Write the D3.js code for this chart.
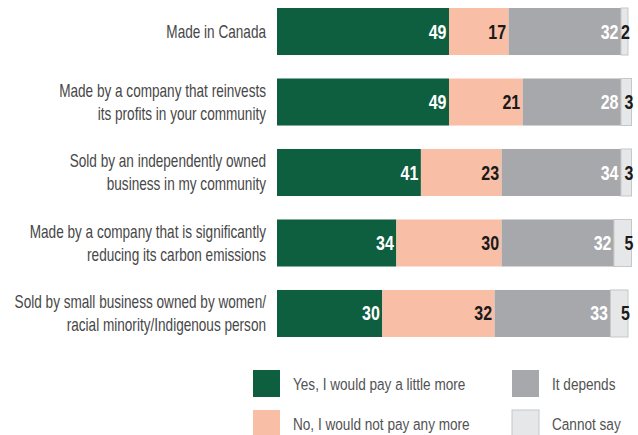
<!DOCTYPE html>
<html>
<head>
<meta charset="utf-8">
<script src="https://cdn.jsdelivr.net/npm/d3@7"></script>
<style>
  body { margin: 0; background: #fff; }
  svg text { font-family: "Liberation Sans", Arial, sans-serif; }
  .cat { fill: #474747; font-size: 18px; }
  .val { font-size: 20px; font-weight: bold; }
  .leg { fill: #525252; font-size: 17px; }
</style>
</head>
<body>
<div id="chart"></div>
<script>
var categories = [
  ["Made in Canada"],
  ["Made by a company that reinvests", "its profits in your community"],
  ["Sold by an independently owned", "business in my community"],
  ["Made by a company that is significantly", "reducing its carbon emissions"],
  ["Sold by small business owned by women/", "racial minority/Indigenous person"]
];
var seriesNames = ["Yes, I would pay a little more", "No, I would not pay any more", "It depends", "Cannot say"];
var yesVals = [49, 49, 41, 34, 30];
var noVals = [17, 21, 23, 30, 32];
var dependsVals = [32, 28, 34, 32, 33];
var cannotVals = [2, 3, 3, 5, 5];

var colors = ["#0e5e40", "#f9bea6", "#a7a8ab", "#e6e7e8"];
var textColors = ["#fff", "#1a1a1a", "#fff", "#1a1a1a"];

var width = 638, height = 435;
var svg = d3.select("#chart").append("svg")
  .attr("width", width).attr("height", height);

var x = d3.scaleLinear().domain([0, 100]).range([277, 628]);
var y = d3.scaleBand().domain(d3.range(categories.length)).range([8, 337]).paddingInner(0.333).paddingOuter(0);
var bh = y.bandwidth();

var rows = categories.map(function (c, i) {
  var vals = [yesVals[i], noVals[i], dependsVals[i], cannotVals[i]];
  var acc = 0;
  var segs = vals.map(function (v, k) {
    var s = { k: k, v: v, x0: acc, x1: acc + v };
    acc += v;
    return s;
  });
  return { i: i, lines: c, segs: segs };
});

var g = svg.selectAll(".row").data(rows).enter().append("g")
  .attr("class", "row")
  .attr("transform", function (d) { return "translate(0," + y(d.i) + ")"; });

g.selectAll("rect").data(function (d) { return d.segs; }).enter().append("rect")
  .attr("x", function (s) { return x(s.x0); })
  .attr("width", function (s) { return x(s.x1) - x(s.x0); })
  .attr("y", 0).attr("height", bh)
  .attr("fill", function (s) { return colors[s.k]; })
  .attr("stroke", function (s) { return s.k === 3 ? "#c6c7c9" : "none"; })
  .attr("stroke-width", 1);

g.selectAll(".val").data(function (d) { return d.segs; }).enter().append("text")
  .attr("class", "val")
  .attr("transform", function (s) {
    return "translate(" + (x(s.x1) + (s.k === 3 ? 2 : -2.5)) + "," + (bh / 2 + 7) + ") scale(0.8,1)";
  })
  .attr("text-anchor", "end")
  .attr("fill", function (s) { return textColors[s.k]; })
  .text(function (s) { return s.v; });

g.each(function (d) {
  var t = d3.select(this).append("text").attr("class", "cat")
    .attr("text-anchor", "end")
    .attr("transform", "translate(266,0) scale(0.755,1)");
  var n = d.lines.length;
  d.lines.forEach(function (l, j) {
    t.append("tspan").attr("x", 0)
      .attr("y", bh / 2 + 6.5 + (j - (n - 1) / 2) * 23)
      .text(l);
  });
});

// legend
var legPos = [[253, 370], [253, 410], [512, 370], [512, 410]];
var leg = svg.selectAll(".legItem").data(seriesNames).enter().append("g")
  .attr("class", "legItem")
  .attr("transform", function (d, i) { return "translate(" + legPos[i][0] + "," + legPos[i][1] + ")"; });
leg.append("rect").attr("width", 27).attr("height", 27)
  .attr("fill", function (d, i) { return colors[i]; })
  .attr("stroke", function (d, i) { return i === 3 ? "#c6c7c9" : "none"; });
leg.append("text").attr("class", "leg")
  .attr("transform", "translate(40,19.5) scale(0.8,1)")
  .text(function (d) { return d; });
</script>
</body>
</html>
